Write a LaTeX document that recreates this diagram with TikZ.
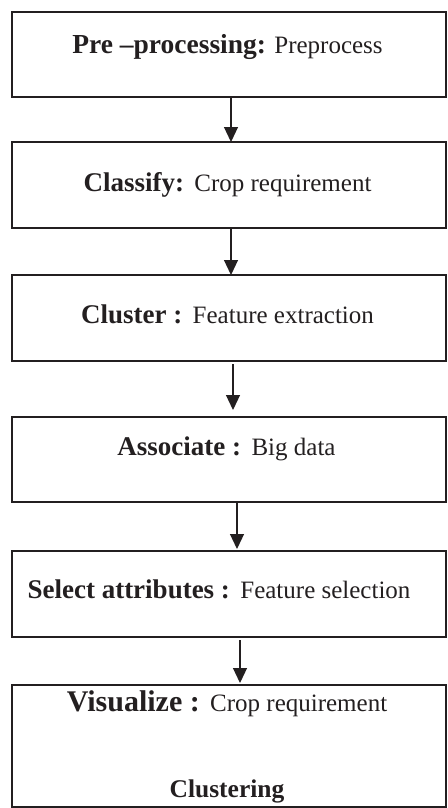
\documentclass[tikz,border=0pt]{standalone}
\usepackage{fontspec}
\setmainfont{Liberation Serif}
\usetikzlibrary{arrows.meta}
\definecolor{ink}{HTML}{231F20}
\newcommand{\hd}[2][27]{{\fontsize{#1}{#1}\selectfont\bfseries #2}}
\begin{document}
\begin{tikzpicture}[x=1pt,y=-1pt,
  box/.style={draw=ink,line width=1.3pt,minimum width=434pt,inner sep=0pt,outer sep=0pt},
  lbl/.style={anchor=base,inner sep=0pt,text=ink,font=\fontsize{25}{30}\selectfont},
  arr/.style={draw=ink,line width=1.2pt,-{Triangle[width=14pt,length=15pt]}}]
\useasboundingbox (0,0) rectangle (447,808);
\node[box,minimum height=85pt] (b1) at (229,54.5) {};
\node[box,minimum height=86pt] (b2) at (229,185) {};
\node[box,minimum height=86pt] (b3) at (229,318) {};
\node[box,minimum height=85pt] (b4) at (229,459.5) {};
\node[box,minimum height=86pt] (b5) at (229,594) {};
\node[box,minimum height=122pt] (b6) at (229,746) {};
\node[lbl] (t1) at (227.5,53) {\hd[27.5]{Pre –processing:} Preprocess};
\node[lbl] (t2) at (227.5,191) {\hd{Classify:}\ \,Crop requirement};
\node[lbl] (t3) at (227.5,323) {\hd{Cluster :}\ \,Feature extraction};
\node[lbl] (t4) at (226.5,455) {\hd{Associate :}\ \,Big data};
\node[lbl] (t5) at (219,598) {\hd{Select attributes :}\ \,Feature selection};
\node[lbl] (t6) at (227,711) {\hd[30]{Visualize :}\ \,Crop requirement};
\node[lbl] (t7) at (227,797) {\hd[25.5]{Clustering}};
\draw[arr] (b1.south -| 231,0) -- (b2.north -| 231,0);
\draw[arr] (b2.south -| 231,0) -- (b3.north -| 231,0);
\draw[arr,shorten <=3pt,shorten >=7pt] (b3.south -| 233,0) -- (b4.north -| 233,0);
\draw[arr,shorten >=2pt] (b4.south -| 237,0) -- (b5.north -| 237,0);
\draw[arr,shorten <=3pt,shorten >=2pt] (b5.south -| 240,0) -- (b6.north -| 240,0);
\end{tikzpicture}
\end{document}
